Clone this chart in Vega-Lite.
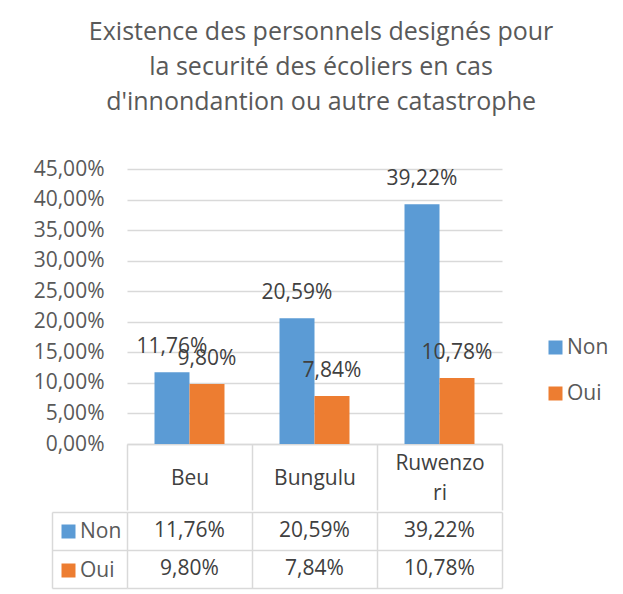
{
  "$schema": "https://vega.github.io/schema/vega-lite/v6.json",
  "padding": {"left": 33, "top": 20, "right": 5, "bottom": 5},
  "background": "white",
  "config": {
    "locale": {"number": {"decimal": ",", "thousands": " ", "grouping": [3], "currency": ["", " €"]}},
    "view": {"stroke": null},
    "font": "Open Sans",
    "text": {"font": "Open Sans"},
    "axis": {"labelFont": "Open Sans"},
    "legend": {"labelFont": "Open Sans"}
  },
  "title": {
    "text": ["Existence des personnels designés pour", "la securité des écoliers en cas", "d'innondantion ou autre catastrophe"],
    "fontSize": 25,
    "lineHeight": 35,
    "font": "Open Sans",
    "fontWeight": "normal",
    "color": "#595959",
    "anchor": "middle",
    "offset": 43
  },
  "data": {
    "values": [
      {"site": "Beu", "serie": "Non", "pct": 0.1176},
      {"site": "Beu", "serie": "Oui", "pct": 0.098},
      {"site": "Bungulu", "serie": "Non", "pct": 0.2059},
      {"site": "Bungulu", "serie": "Oui", "pct": 0.0784},
      {"site": "Ruwenzori", "serie": "Non", "pct": 0.3922},
      {"site": "Ruwenzori", "serie": "Oui", "pct": 0.1078}
    ]
  },
  "spacing": 0,
  "vconcat": [
    {
      "width": 375,
      "height": 275,
      "encoding": {
        "x": {
          "field": "site", "type": "nominal", "sort": ["Beu", "Bungulu", "Ruwenzori"],
          "scale": {"paddingInner": 0, "paddingOuter": 0},
          "axis": {
            "title": null, "orient": "bottom", "tickBand": "extent", "ticks": true, "tickSize": 66,
            "tickColor": "#D9D9D9", "tickWidth": 1.5, "domain": true, "domainColor": "#D9D9D9", "domainWidth": 1.5,
            "labelPadding": -32, "labelFontSize": 21, "labelColor": "#404040",
            "labelBaseline": {"condition": {"test": "datum.value == 'Ruwenzori'", "value": "line-bottom"}, "value": "middle"},
            "labelAngle": 0, "labelLineHeight": 30, "grid": false,
            "labelExpr": "datum.value == 'Ruwenzori' ? ['Ruwenzo', 'ri'] : datum.value"
          }
        },
        "xOffset": {"field": "serie", "type": "nominal", "sort": ["Non", "Oui"], "scale": {"paddingOuter": 0.786, "paddingInner": 0}},
        "y": {
          "field": "pct", "type": "quantitative", "scale": {"domain": [0, 0.45]},
          "axis": {
            "values": [0, 0.05, 0.1, 0.15, 0.2, 0.25, 0.3, 0.35, 0.4, 0.45], "format": ".2%",
            "labelFontSize": 21, "labelColor": "#595959", "labelPadding": 23, "ticks": false, "domain": false,
            "grid": true, "gridColor": "#D9D9D9", "gridWidth": 1.5, "title": null
          }
        }
      },
      "layer": [
        {
          "mark": {"type": "bar"},
          "encoding": {
            "color": {
              "field": "serie", "type": "nominal",
              "scale": {"domain": ["Non", "Oui"], "range": ["#5B9BD5", "#ED7D31"]},
              "legend": {
                "orient": "none", "legendX": 418, "legendY": 168, "title": null, "symbolType": "square",
                "symbolSize": 196, "labelFontSize": 21, "labelColor": "#595959", "rowPadding": 24,
                "labelOffset": 1, "symbolStrokeWidth": 0
              }
            }
          }
        },
        {
          "mark": {"type": "text", "dy": -25, "baseline": "middle", "fontSize": 21, "color": "#404040"},
          "encoding": {"text": {"field": "pct", "type": "quantitative", "format": ".2%"}}
        }
      ]
    },
    {
      "width": 375,
      "height": 76,
      "encoding": {
        "x": {
          "field": "site", "type": "nominal", "sort": ["Beu", "Bungulu", "Ruwenzori"],
          "scale": {"paddingInner": 0, "paddingOuter": 0},
          "axis": {
            "title": null, "grid": true, "tickBand": "extent", "labels": false, "ticks": false, "domain": false,
            "gridColor": "#D9D9D9", "gridWidth": 1.5
          }
        },
        "y": {
          "field": "serie", "type": "nominal", "sort": ["Non", "Oui"],
          "scale": {"paddingInner": 0, "paddingOuter": 0},
          "axis": {
            "title": null, "orient": "left", "grid": true, "tickBand": "extent", "labels": false,
            "ticks": true, "tickSize": -75, "offset": 75, "domain": true,
            "domainColor": "#D9D9D9", "domainWidth": 1.5, "tickColor": "#D9D9D9", "tickWidth": 1.5,
            "gridColor": "#D9D9D9", "gridWidth": 1.5
          }
        }
      },
      "layer": [
        {
          "mark": {"type": "text", "baseline": "middle", "fontSize": 21, "color": "#404040"},
          "encoding": {"text": {"field": "pct", "type": "quantitative", "format": ".2%"}}
        },
        {
          "mark": {"type": "point", "shape": "square", "filled": true, "opacity": 0},
          "encoding": {
            "color": {
              "field": "serie", "type": "nominal",
              "scale": {"domain": ["Non", "Oui"], "range": ["#5B9BD5", "#ED7D31"]},
              "legend": {
                "orient": "none", "legendX": -69, "legendY": 9, "title": null, "symbolType": "square",
                "symbolSize": 196, "labelFontSize": 21, "labelColor": "#595959", "rowPadding": 17,
                "labelOffset": 1, "symbolStrokeWidth": 0, "symbolOpacity": 1
              }
            }
          }
        }
      ]
    }
  ],
  "resolve": {"scale": {"color": "independent"}, "legend": {"color": "independent"}}
}
